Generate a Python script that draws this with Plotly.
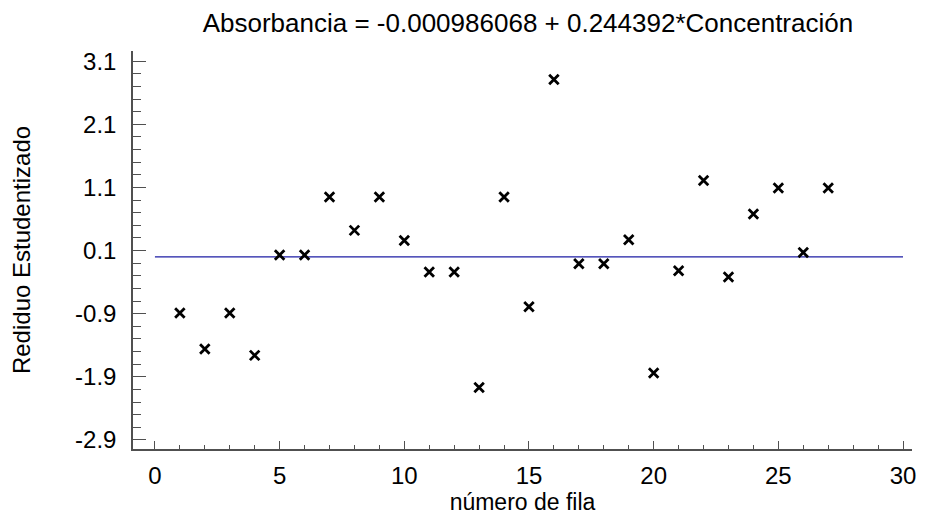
import plotly.graph_objects as go

# Data
row_number = list(range(1, 28))
studentized_residual = [
    -0.89, -1.46, -0.89, -1.56, 0.03, 0.03, 0.95, 0.42, 0.95, 0.26,
    -0.24, -0.24, -2.07, 0.95, -0.79, 2.81, -0.11, -0.11, 0.27, -1.84,
    -0.22, 1.21, -0.32, 0.68, 1.09, 0.07, 1.09,
]
ref_line_x = [0, 30]
ref_line_y = [0, 0]

y_tick_values = [-2.9, -1.9, -0.9, 0.1, 1.1, 2.1, 3.1]
y_tick_labels = ["-2.9", "-1.9", "-0.9", "0.1", "1.1", "2.1", "3.1"]
x_tick_values = [0, 5, 10, 15, 20, 25, 30]
x_tick_labels = ["0", "5", "10", "15", "20", "25", "30"]

title_text = "Absorbancia = -0.000986068 + 0.244392*Concentración"
x_title = "número de fila"
y_title = "Rediduo Estudentizado"

FONT = "Liberation Sans, Arial, sans-serif"
AXIS_COLOR = "#505050"

fig = go.Figure()
fig.add_trace(go.Scatter(
    x=ref_line_x, y=ref_line_y, mode="lines",
    line=dict(color="#1c1ca4", width=1.4), hoverinfo="skip", showlegend=False,
))
fig.add_trace(go.Scatter(
    x=row_number, y=studentized_residual, mode="markers",
    marker=dict(symbol="x-thin", size=9.5, line=dict(width=2.8, color="black"), color="black"),
    showlegend=False,
))

fig.update_layout(
    width=926, height=521,
    margin=dict(l=133, r=14, t=51, b=72, autoexpand=False),
    paper_bgcolor="white", plot_bgcolor="white",
    font=dict(family=FONT, color="black", size=23),
    title=dict(text=title_text, x=0.507, xanchor="center", xref="paper",
               y=1 - 23 / 521, yanchor="middle", yref="container",
               font=dict(size=26, color="black", family=FONT)),
)
fig.update_xaxes(
    range=[-0.88, 30.36], tickmode="array", tickvals=x_tick_values, ticktext=x_tick_labels,
    showline=True, linecolor=AXIS_COLOR, linewidth=1.5,
    ticks="inside", ticklen=8, tickcolor=AXIS_COLOR, tickwidth=1.2,
    minor=dict(dtick=1, tick0=0, ticks="inside", ticklen=4, tickcolor=AXIS_COLOR, tickwidth=1),
    showgrid=False, zeroline=False, ticklabelstandoff=4, automargin=False,
    tickfont=dict(size=24, color="black"),
    title=dict(text=x_title, font=dict(size=23, color="black"), standoff=4),
)
fig.update_yaxes(
    range=[-3.043, 3.261], tickmode="array", tickvals=y_tick_values, ticktext=y_tick_labels,
    showline=True, linecolor=AXIS_COLOR, linewidth=1.5,
    ticks="inside", ticklen=13, tickcolor=AXIS_COLOR, tickwidth=1.2,
    minor=dict(dtick=0.2, tick0=0.1, ticks="inside", ticklen=8, tickcolor=AXIS_COLOR, tickwidth=1),
    showgrid=False, zeroline=False, ticklabelstandoff=10, automargin=False,
    tickfont=dict(size=24, color="black"),
    title=dict(text=y_title, font=dict(size=24, color="black"), standoff=38),
)

fig.write_html(
    "out.html",
    config={"displayModeBar": False},
    post_script="document.body.style.margin='0px';document.body.style.overflow='hidden';",
)
